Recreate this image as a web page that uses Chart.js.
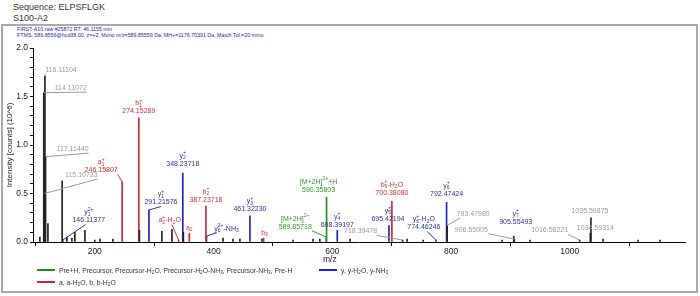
<!DOCTYPE html>
<html>
<head>
<meta charset="utf-8">
<script src="https://cdn.jsdelivr.net/npm/chart.js@4/dist/chart.umd.min.js"></script>
<style>
  body { margin: 0; background: #fff; font-family: "Liberation Sans", Arial, sans-serif; }
  #wrap { position: relative; width: 700px; height: 296px; overflow: hidden; }
  .abs { position: absolute; white-space: nowrap; }
  .title { font-size: 9px; color: #333; left: 13px; }
  .hdr { font-size: 5.3px; color: #2626b0; left: 17px; }
  #frame { left: 1px; top: 24px; width: 693px; height: 265px; border: 2px solid #a9a9a9; }
  .leg { font-size: 6.8px; color: #333; line-height: 8px; }
  .leg i { display: inline-block; width: 18px; height: 2px; vertical-align: 2px; margin-right: 4px; }
  sub { font-size: 70%; line-height: 0; vertical-align: -1px; }
  #xtitle { font-size: 8.5px; color: #222; top: 254px; left: 323px; }
  canvas { position: absolute; left: 0; top: 0; }
</style>
</head>
<body>
<div id="wrap">
  <div class="abs title" style="top:2px">Sequence: ELPSFLGK</div>
  <div class="abs title" style="top:13px">S100-A2</div>
  <div class="abs" id="frame"></div>
  <div class="abs hdr" style="top:26px">FIRST-A10.raw #25872 RT: 46.1155 min</div>
  <div class="abs hdr" style="top:32px">FTMS, 589.8556@hcd38.00, z=+2, Mono m/z=589.85559 Da, MH+=1176.70391 Da, Match Tol.=20 mmu</div>
  <canvas id="spectrum" width="700" height="296"></canvas>
  <div class="abs" id="xtitle">m/z</div>
  <div class="abs leg" style="left:37px;top:267px"><i style="background:#1f8f1f"></i>Pre+H, Precursor, Precursor-H<sub>2</sub>O, Precursor-H<sub>2</sub>O-NH<sub>3</sub>, Precursor-NH<sub>3</sub>, Pre-H</div>
  <div class="abs leg" style="left:319px;top:267px"><i style="background:#1a1aff"></i>y, y-H<sub>2</sub>O, y-NH<sub>3</sub></div>
  <div class="abs leg" style="left:37px;top:279px"><i style="background:#cc2727"></i>a, a-H<sub>2</sub>O, b, b-H<sub>2</sub>O</div>
</div>
<script>
const FONT = '"Liberation Sans", Arial, sans-serif';

// axis ranges
const X_MIN = 96;
const X_MAX = 1194;
const Y_MAX = 2.0;

// precursor ions (green)
const preMz = [589.85718, 590.35803];
const preInt = [0.05, 0.46];
const preName = ['[M+2H]^{2+}', '[M+2H]^{2+}+H'];
const preShowMz = [1, 1];

// y ions (blue)
const yMz = [146.11377, 291.21576, 348.23718, 388.2, 461.32230, 608.39197, 695.42194, 774.46246, 792.47424, 905.55493];
const yInt = [0.02, 0.33, 0.71, 0.06, 0.27, 0.12, 0.17, 0.02, 0.41, 0.06];
const yName = ['y_1^{2+}', 'y_1^+', 'y_2^+', 'y_6^{2+}-NH_3', 'y_3^+', 'y_4^+', 'y_5^+', 'y_6^+-H_2O', 'y_6^+', 'y_7^+'];
const yShowMz = [1, 1, 1, 0, 1, 1, 1, 1, 1, 1];

// a / b ions (red)
const abMz = [246.15807, 274.15289, 341.23, 359.24, 387.23718, 484.29, 700.38080];
const abInt = [0.62, 1.28, 0.02, 0.09, 0.37, 0.04, 0.42];
const abName = ['a_1^+', 'b_1^+', 'a_2^+-H_2O', 'a_2', 'b_2^+', 'b_3', 'b_5^+-H_2O'];
const abShowMz = [1, 1, 0, 0, 1, 0, 1];

// unassigned peaks that carry an m/z label
const tagMz = [114.11072, 115.10733, 116.11104, 117.11440, 718.39478, 793.47980, 906.55005, 1016.58221, 1034.59314, 1035.59875];
const tagInt = [1.54, 0.50, 1.71, 0.88, 0.02, 0.17, 0.03, 0.02, 0.09, 0.25];

// unassigned, unlabeled peaks
const restMz = [107.6, 121.1, 145.1, 153, 161.5, 166.5, 183.4, 200, 208.7, 230.6, 275.16, 313, 330, 349.24,
  416, 432.8, 444.5, 481.6, 534, 567.6, 579, 630, 726, 753, 886, 933, 1056, 1115, 1152];
const restInt = [0.05, 0.19, 0.63, 0.05, 0.04, 0.10, 0.12, 0.02, 0.03, 0.03, 0.12, 0.11, 0.13, 0.10,
  0.04, 0.03, 0.03, 0.03, 0.02, 0.03, 0.03, 0.03, 0.03, 0.02, 0.02, 0.02, 0.03, 0.02, 0.02];

// label placement: [dx, dy, leader attach (0 left .. 1 right of label)], px from peak top
const LABEL_POS = {
  '116.11104': [16, -3, 0], '114.11072': [27, -1, 1], '117.1144': [27, -4, 1], '115.10733': [37, -15, 1],
  '246.15807': [-21, -8, 1], '146.11377': [26, -16, 0.4], '291.21576': [12, -4, 0.5],
  '348.23718': [0, -6, null], '341.23': [-9, -16, 0.6], '359.24': [0, -2, null],
  '387.23718': [0, -3, null], '388.2': [20, -4, 0.1], '484.29': [1, -2, null],
  '589.85718': [-31, -7, 1], '590.35803': [-8, -4, null], '608.39197': [0, -2, null],
  '718.39478': [-42, -5, 1], '695.42194': [-1, -3, null], '700.3808': [0, -5, null],
  '774.46246': [-12, -9, 0.6], '792.47424': [0, -5, null], '793.4798': [26, -8, 0.1],
  '905.55493': [2, -11, null], '906.55005': [-43, -6, 1], '1016.58221': [-30, -6, 1],
  '1035.59875': [-1, -3, null], '1034.59314': [5, -2, null]
};

function pts(mz, it) { return mz.map((m, i) => ({ x: m, y: it[i] })); }

function parseRich(s) {
  const out = [];
  let i = 0;
  while (i < s.length) {
    const c = s[i];
    if (c === '_' || c === '^') {
      let t;
      if (s[i + 1] === '{') { const j = s.indexOf('}', i); t = s.slice(i + 2, j); i = j + 1; }
      else { t = s[i + 1]; i += 2; }
      out.push({ kind: c, t });
    } else {
      const last = out[out.length - 1];
      if (last && last.kind === 'n') last.t += c; else out.push({ kind: 'n', t: c });
      i++;
    }
  }
  return out;
}

// sub/superscripts that follow each other are stacked, like the instrument software does
function layoutRich(ctx, s, size) {
  const toks = parseRich(s);
  const small = size * 0.72;
  const runs = [];
  let x = 0;
  const shift = k => (k === '_' ? size * 0.28 : -size * 0.42);
  for (let k = 0; k < toks.length; k++) {
    const tk = toks[k];
    if (tk.kind === 'n') {
      ctx.font = `${size}px ${FONT}`;
      runs.push({ t: tk.t, x, dy: 0, size });
      x += ctx.measureText(tk.t).width;
      continue;
    }
    ctx.font = `${small}px ${FONT}`;
    let w = ctx.measureText(tk.t).width;
    runs.push({ t: tk.t, x, dy: shift(tk.kind), size: small });
    const nxt = toks[k + 1];
    if (nxt && nxt.kind !== 'n' && nxt.kind !== tk.kind) {
      runs.push({ t: nxt.t, x, dy: shift(nxt.kind), size: small });
      w = Math.max(w, ctx.measureText(nxt.t).width);
      k++;
    }
    x += w;
  }
  return { runs, width: x };
}

function drawRich(ctx, lay, left, cy) {
  lay.runs.forEach(r => {
    ctx.font = `${r.size}px ${FONT}`;
    ctx.fillText(r.t, left + r.x, cy + r.dy);
  });
}

const peakLabels = {
  id: 'peakLabels',
  afterDatasetsDraw(chart) {
    const { ctx, scales: { x, y } } = chart;
    const size = 7;
    ctx.save();
    ctx.textBaseline = 'middle';
    ctx.textAlign = 'left';
    chart.data.datasets.forEach(ds => {
      if (!ds.tags) return;
      ds.data.forEach((p, i) => {
        const px = x.getPixelForValue(p.x);
        const py = y.getPixelForValue(p.y);
        const pos = LABEL_POS[String(p.x)] || [0, -3, null];
        const lines = [];
        if (ds.tags.names) lines.push(layoutRich(ctx, ds.tags.names[i], size));
        if (!ds.tags.show || ds.tags.show[i]) {
          ctx.font = `${size}px ${FONT}`;
          const t = p.x.toFixed(5);
          lines.push({ runs: [{ t, x: 0, dy: 0, size }], width: ctx.measureText(t).width });
        }
        const w = Math.max(...lines.map(l => l.width));
        const cx = px + pos[0];
        const bottom = py + pos[1];
        ctx.fillStyle = ds.tags.color;
        lines.forEach((l, k) => {
          const cy = bottom - 3.5 - (lines.length - 1 - k) * 8;
          drawRich(ctx, l, cx - l.width / 2, cy);
        });
        if (pos[2] !== null) {
          ctx.strokeStyle = ds.tags.color;
          ctx.lineWidth = 1;
          ctx.beginPath();
          ctx.moveTo(px, py);
          ctx.lineTo(cx - w / 2 + pos[2] * w, bottom + 0.5);
          ctx.stroke();
        }
      });
    });
    ctx.restore();
  }
};

function barSet(data, color, tags) {
  return { data, backgroundColor: color, borderWidth: 0, barThickness: 1, grouped: false, tags };
}

new Chart(document.getElementById('spectrum'), {
  type: 'bar',
  data: {
    datasets: [
      barSet(pts(restMz, restInt), '#222'),
      barSet(pts(tagMz, tagInt), '#222', { color: '#9a9a9a' }),
      barSet(pts(abMz, abInt), '#cc2a2a', { color: '#d23030', names: abName, show: abShowMz }),
      barSet(pts(yMz, yInt), '#2222b8', { color: '#2e2ea6', names: yName, show: yShowMz }),
      barSet(pts(preMz, preInt), '#1f8f1f', { color: '#2a9a2a', names: preName, show: preShowMz })
    ]
  },
  options: {
    responsive: false,
    animation: false,
    devicePixelRatio: 1,
    layout: { padding: { left: 0, right: 15, top: 48, bottom: 32 } },
    plugins: { legend: { display: false }, tooltip: { enabled: false } },
    scales: {
      x: {
        type: 'linear', min: X_MIN, max: X_MAX, offset: false,
        border: { color: '#000', width: 1 },
        grid: { drawOnChartArea: false, color: '#000', tickLength: 4 },
        ticks: {
          stepSize: 200, includeBounds: false, autoSkip: false, maxRotation: 0, padding: 1,
          color: '#222', font: { size: 8.5, family: FONT },
          callback: v => String(v)
        },
        afterFit(s) { s.height = 22; }
      },
      y: {
        min: 0, max: Y_MAX,
        border: { color: '#000', width: 1 },
        grid: { drawOnChartArea: false, color: '#000', tickLength: 3 },
        ticks: {
          stepSize: 0.1, autoSkip: false, padding: 2, color: '#222', font: { size: 8.5, family: FONT },
          callback: v => (Math.round(v * 10) % 5 === 0 ? v.toFixed(1) : '')
        },
        title: { display: true, text: 'Intensity [counts] (10^6)', color: '#222',
          font: { size: 8, family: FONT }, padding: { top: 5, bottom: 0 } },
        afterFit(s) { s.width = 33; }
      }
    }
  },
  plugins: [peakLabels]
});
</script>
</body>
</html>
